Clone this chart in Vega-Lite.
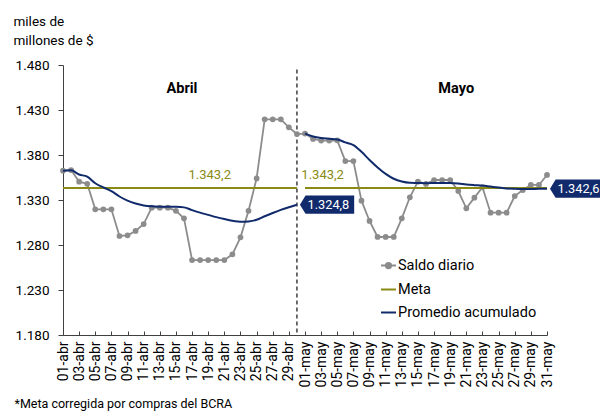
{
  "$schema": "https://vega.github.io/schema/vega-lite/v6.json",
  "width": 484,
  "height": 270,
  "autosize": {"type": "none"},
  "padding": {"left": 63, "top": 65, "right": 53, "bottom": 81},
  "background": "white",
  "config": {"font": "Roboto", "view": {"stroke": null}},
  "datasets": {
    "daily": [
      {"d": "01-abr", "mes": "abr", "Saldo diario": 1362.6, "Meta": 1343.2, "Promedio acumulado": 1362.6},
      {"d": "02-abr", "mes": "abr", "Saldo diario": 1363.3, "Meta": 1343.2, "Promedio acumulado": 1363.0},
      {"d": "03-abr", "mes": "abr", "Saldo diario": 1350.4, "Meta": 1343.2, "Promedio acumulado": 1358.3},
      {"d": "04-abr", "mes": "abr", "Saldo diario": 1348.0, "Meta": 1343.2, "Promedio acumulado": 1356.0},
      {"d": "05-abr", "mes": "abr", "Saldo diario": 1319.6, "Meta": 1343.2, "Promedio acumulado": 1348.6},
      {"d": "06-abr", "mes": "abr", "Saldo diario": 1319.6, "Meta": 1343.2, "Promedio acumulado": 1344.0},
      {"d": "07-abr", "mes": "abr", "Saldo diario": 1319.6, "Meta": 1343.2, "Promedio acumulado": 1339.8},
      {"d": "08-abr", "mes": "abr", "Saldo diario": 1290.0, "Meta": 1343.2, "Promedio acumulado": 1333.9},
      {"d": "09-abr", "mes": "abr", "Saldo diario": 1290.8, "Meta": 1343.2, "Promedio acumulado": 1329.3},
      {"d": "10-abr", "mes": "abr", "Saldo diario": 1295.6, "Meta": 1343.2, "Promedio acumulado": 1326.1},
      {"d": "11-abr", "mes": "abr", "Saldo diario": 1303.3, "Meta": 1343.2, "Promedio acumulado": 1324.0},
      {"d": "12-abr", "mes": "abr", "Saldo diario": 1321.5, "Meta": 1343.2, "Promedio acumulado": 1323.0},
      {"d": "13-abr", "mes": "abr", "Saldo diario": 1321.5, "Meta": 1343.2, "Promedio acumulado": 1322.6},
      {"d": "14-abr", "mes": "abr", "Saldo diario": 1321.5, "Meta": 1343.2, "Promedio acumulado": 1322.5},
      {"d": "15-abr", "mes": "abr", "Saldo diario": 1318.0, "Meta": 1343.2, "Promedio acumulado": 1322.4},
      {"d": "16-abr", "mes": "abr", "Saldo diario": 1309.6, "Meta": 1343.2, "Promedio acumulado": 1321.8},
      {"d": "17-abr", "mes": "abr", "Saldo diario": 1263.3, "Meta": 1343.2, "Promedio acumulado": 1318.8},
      {"d": "18-abr", "mes": "abr", "Saldo diario": 1263.3, "Meta": 1343.2, "Promedio acumulado": 1316.0},
      {"d": "19-abr", "mes": "abr", "Saldo diario": 1263.3, "Meta": 1343.2, "Promedio acumulado": 1313.5},
      {"d": "20-abr", "mes": "abr", "Saldo diario": 1263.3, "Meta": 1343.2, "Promedio acumulado": 1311.0},
      {"d": "21-abr", "mes": "abr", "Saldo diario": 1263.3, "Meta": 1343.2, "Promedio acumulado": 1308.8},
      {"d": "22-abr", "mes": "abr", "Saldo diario": 1269.6, "Meta": 1343.2, "Promedio acumulado": 1306.9},
      {"d": "23-abr", "mes": "abr", "Saldo diario": 1288.5, "Meta": 1343.2, "Promedio acumulado": 1305.8},
      {"d": "24-abr", "mes": "abr", "Saldo diario": 1318.0, "Meta": 1343.2, "Promedio acumulado": 1306.2},
      {"d": "25-abr", "mes": "abr", "Saldo diario": 1354.0, "Meta": 1343.2, "Promedio acumulado": 1308.0},
      {"d": "26-abr", "mes": "abr", "Saldo diario": 1419.6, "Meta": 1343.2, "Promedio acumulado": 1311.9},
      {"d": "27-abr", "mes": "abr", "Saldo diario": 1419.6, "Meta": 1343.2, "Promedio acumulado": 1315.6},
      {"d": "28-abr", "mes": "abr", "Saldo diario": 1419.6, "Meta": 1343.2, "Promedio acumulado": 1319.0},
      {"d": "29-abr", "mes": "abr", "Saldo diario": 1410.7, "Meta": 1343.2, "Promedio acumulado": 1322.0},
      {"d": "30-abr", "mes": "abr", "Saldo diario": 1403.3, "Meta": 1343.2, "Promedio acumulado": 1324.8},
      {"d": "01-may", "mes": "may", "Saldo diario": 1403.8, "Meta": 1343.2, "Promedio acumulado": 1403.8},
      {"d": "02-may", "mes": "may", "Saldo diario": 1397.8, "Meta": 1343.2, "Promedio acumulado": 1400.5},
      {"d": "03-may", "mes": "may", "Saldo diario": 1396.0, "Meta": 1343.2, "Promedio acumulado": 1398.8},
      {"d": "04-may", "mes": "may", "Saldo diario": 1396.0, "Meta": 1343.2, "Promedio acumulado": 1398.0},
      {"d": "05-may", "mes": "may", "Saldo diario": 1396.3, "Meta": 1343.2, "Promedio acumulado": 1397.3},
      {"d": "06-may", "mes": "may", "Saldo diario": 1373.3, "Meta": 1343.2, "Promedio acumulado": 1394.0},
      {"d": "07-may", "mes": "may", "Saldo diario": 1373.3, "Meta": 1343.2, "Promedio acumulado": 1391.0},
      {"d": "08-may", "mes": "may", "Saldo diario": 1329.3, "Meta": 1343.2, "Promedio acumulado": 1383.5},
      {"d": "09-may", "mes": "may", "Saldo diario": 1306.7, "Meta": 1343.2, "Promedio acumulado": 1374.5},
      {"d": "10-may", "mes": "may", "Saldo diario": 1288.9, "Meta": 1343.2, "Promedio acumulado": 1366.2},
      {"d": "11-may", "mes": "may", "Saldo diario": 1288.9, "Meta": 1343.2, "Promedio acumulado": 1359.0},
      {"d": "12-may", "mes": "may", "Saldo diario": 1288.9, "Meta": 1343.2, "Promedio acumulado": 1353.6},
      {"d": "13-may", "mes": "may", "Saldo diario": 1309.6, "Meta": 1343.2, "Promedio acumulado": 1350.5},
      {"d": "14-may", "mes": "may", "Saldo diario": 1333.0, "Meta": 1343.2, "Promedio acumulado": 1349.1},
      {"d": "15-may", "mes": "may", "Saldo diario": 1350.4, "Meta": 1343.2, "Promedio acumulado": 1348.9},
      {"d": "16-may", "mes": "may", "Saldo diario": 1347.8, "Meta": 1343.2, "Promedio acumulado": 1348.7},
      {"d": "17-may", "mes": "may", "Saldo diario": 1352.2, "Meta": 1343.2, "Promedio acumulado": 1348.8},
      {"d": "18-may", "mes": "may", "Saldo diario": 1352.2, "Meta": 1343.2, "Promedio acumulado": 1348.9},
      {"d": "19-may", "mes": "may", "Saldo diario": 1352.2, "Meta": 1343.2, "Promedio acumulado": 1349.0},
      {"d": "20-may", "mes": "may", "Saldo diario": 1340.0, "Meta": 1343.2, "Promedio acumulado": 1348.4},
      {"d": "21-may", "mes": "may", "Saldo diario": 1320.7, "Meta": 1343.2, "Promedio acumulado": 1347.2},
      {"d": "22-may", "mes": "may", "Saldo diario": 1332.6, "Meta": 1343.2, "Promedio acumulado": 1346.5},
      {"d": "23-may", "mes": "may", "Saldo diario": 1344.1, "Meta": 1343.2, "Promedio acumulado": 1346.0},
      {"d": "24-may", "mes": "may", "Saldo diario": 1315.9, "Meta": 1343.2, "Promedio acumulado": 1344.9},
      {"d": "25-may", "mes": "may", "Saldo diario": 1315.9, "Meta": 1343.2, "Promedio acumulado": 1343.8},
      {"d": "26-may", "mes": "may", "Saldo diario": 1315.9, "Meta": 1343.2, "Promedio acumulado": 1342.8},
      {"d": "27-may", "mes": "may", "Saldo diario": 1334.4, "Meta": 1343.2, "Promedio acumulado": 1342.4},
      {"d": "28-may", "mes": "may", "Saldo diario": 1341.1, "Meta": 1343.2, "Promedio acumulado": 1342.2},
      {"d": "29-may", "mes": "may", "Saldo diario": 1346.7, "Meta": 1343.2, "Promedio acumulado": 1342.3},
      {"d": "30-may", "mes": "may", "Saldo diario": 1346.7, "Meta": 1343.2, "Promedio acumulado": 1342.4},
      {"d": "31-may", "mes": "may", "Saldo diario": 1357.8, "Meta": 1343.2, "Promedio acumulado": 1342.6}
    ],
    "divisor": [{"d": "30-abr", "v": 1475, "v2": 1180}],
    "months": [
      {"d": "15-abr", "v": 1453, "t": "Abril"},
      {"d": "19-may", "v": 1453, "t": "Mayo"}
    ],
    "metaLabels": [
      {"d": "19-abr", "v": 1357.8, "t": "1.343,2"},
      {"d": "03-may", "v": 1357.8, "t": "1.343,2"}
    ],
    "callouts": [
      {"d": "30-abr", "v": 1324.8, "t": "1.324,8"},
      {"d": "31-may", "v": 1342.6, "t": "1.342,6"}
    ]
  },
  "encoding": {
    "x": {
      "field": "d",
      "type": "ordinal",
      "scale": {
        "type": "point",
        "padding": 0,
        "domain": ["01-abr","02-abr","03-abr","04-abr","05-abr","06-abr","07-abr","08-abr","09-abr","10-abr","11-abr","12-abr","13-abr","14-abr","15-abr","16-abr","17-abr","18-abr","19-abr","20-abr","21-abr","22-abr","23-abr","24-abr","25-abr","26-abr","27-abr","28-abr","29-abr","30-abr","01-may","02-may","03-may","04-may","05-may","06-may","07-may","08-may","09-may","10-may","11-may","12-may","13-may","14-may","15-may","16-may","17-may","18-may","19-may","20-may","21-may","22-may","23-may","24-may","25-may","26-may","27-may","28-may","29-may","30-may","31-may"]
      },
      "axis": {
        "values": ["01-abr","03-abr","05-abr","07-abr","09-abr","11-abr","13-abr","15-abr","17-abr","19-abr","21-abr","23-abr","25-abr","27-abr","29-abr","01-may","03-may","05-may","07-may","09-may","11-may","13-may","15-may","17-may","19-may","21-may","23-may","25-may","27-may","29-may","31-may"],
        "labelAngle": -90,
        "labelFontSize": 14,
        "labelColor": "#000000",
        "labelPadding": 10,
        "tickSize": -4,
        "tickColor": "#404040",
        "domainColor": "#404040",
        "grid": false,
        "title": "*Meta corregida por compras del BCRA",
        "titleAnchor": "start",
        "titleAlign": "left",
        "titleBaseline": "alphabetic",
        "titleX": -49,
        "titleY": 72,
        "titleFontSize": 12.5,
        "titleFontWeight": "normal",
        "titleColor": "#000000"
      }
    },
    "y": {
      "field": "v",
      "type": "quantitative",
      "scale": {"domain": [1180, 1480], "nice": false, "zero": false},
      "axis": {
        "values": [1180, 1230, 1280, 1330, 1380, 1430, 1480],
        "labelExpr": "replace(format(datum.value, ','), ',', '.')",
        "grid": false,
        "tickSize": 5,
        "tickColor": "#404040",
        "domainColor": "#404040",
        "labelFontSize": 13.5,
        "labelColor": "#000000",
        "labelPadding": 9,
        "title": ["miles de", "millones de $"],
        "titleAngle": 0,
        "titleAlign": "left",
        "titleBaseline": "alphabetic",
        "titleX": -50,
        "titleY": -40,
        "titleFontSize": 13.5,
        "titleFontWeight": "normal",
        "titleColor": "#000000",
        "titleLineHeight": 19
      }
    }
  },
  "layer": [
    {
      "data": {"name": "divisor"},
      "mark": {"type": "rule", "color": "#404040", "strokeWidth": 1.5, "strokeDash": [4, 3]},
      "encoding": {"y2": {"field": "v2"}}
    },
    {
      "data": {"name": "daily"},
      "transform": [
        {"fold": ["Saldo diario", "Meta", "Promedio acumulado"], "as": ["serie", "v"]},
        {"filter": "datum.serie === 'Saldo diario'"}
      ],
      "mark": {"type": "line", "strokeWidth": 1.8},
      "encoding": {
        "color": {
          "field": "serie",
          "type": "nominal",
          "scale": {"domain": ["Saldo diario", "Meta", "Promedio acumulado"], "range": ["#8c8c8c", "#8a8a14", "#102a6b"]},
          "legend": {
            "orient": "none",
            "legendX": 317,
            "legendY": 192,
            "title": null,
            "symbolType": "stroke",
            "symbolSize": 225,
            "symbolStrokeWidth": 2,
            "labelFontSize": 14.5,
            "labelColor": "#000000",
            "rowPadding": 8,
            "labelOffset": 1,
            "padding": 0,
            "encode": {
              "symbols": {
                "update": {
                  "shape": {"signal": "datum.value === 'Saldo diario' ? 'M -1 0 L 1 0 M -0.35 0 A 0.35 0.35 0 1 0 0.35 0 A 0.35 0.35 0 1 0 -0.35 0 Z' : 'stroke'"},
                  "fill": {"signal": "datum.value === 'Saldo diario' ? '#8c8c8c' : 'transparent'"}
                }
              }
            }
          }
        }
      }
    },
    {
      "data": {"name": "daily"},
      "transform": [{"fold": ["Saldo diario"], "as": ["serie", "v"]}],
      "mark": {"type": "point", "filled": true, "color": "#8c8c8c", "size": 33, "opacity": 1}
    },
    {
      "data": {"name": "daily"},
      "transform": [
        {"fold": ["Saldo diario", "Meta", "Promedio acumulado"], "as": ["serie", "v"]},
        {"filter": "datum.serie === 'Meta'"}
      ],
      "mark": {"type": "line", "strokeWidth": 2},
      "encoding": {
        "detail": {"field": "mes"},
        "color": {
          "field": "serie",
          "type": "nominal",
          "scale": {"domain": ["Saldo diario", "Meta", "Promedio acumulado"], "range": ["#8c8c8c", "#8a8a14", "#102a6b"]}
        }
      }
    },
    {
      "data": {"name": "daily"},
      "transform": [
        {"fold": ["Saldo diario", "Meta", "Promedio acumulado"], "as": ["serie", "v"]},
        {"filter": "datum.serie === 'Promedio acumulado'"}
      ],
      "mark": {"type": "line", "strokeWidth": 2, "interpolate": "monotone"},
      "encoding": {
        "detail": {"field": "mes"},
        "color": {
          "field": "serie",
          "type": "nominal",
          "scale": {"domain": ["Saldo diario", "Meta", "Promedio acumulado"], "range": ["#8c8c8c", "#8a8a14", "#102a6b"]}
        }
      }
    },
    {
      "data": {"name": "months"},
      "mark": {"type": "text", "fontWeight": "bold", "fontSize": 14.5, "color": "#000000", "dx": 6, "baseline": "middle", "align": "center"},
      "encoding": {"text": {"field": "t"}}
    },
    {
      "data": {"name": "metaLabels"},
      "mark": {"type": "text", "fontSize": 13, "color": "#8a8a14", "dx": 1.5, "baseline": "middle", "align": "center"},
      "encoding": {"text": {"field": "t"}}
    },
    {
      "data": {"name": "callouts"},
      "mark": {"type": "point", "filled": true, "color": "#102a6b", "opacity": 1, "size": 2916, "shape": "M 0.11 0 L 0.32 -0.34 L 2.12 -0.34 L 2.12 0.34 L 0.32 0.34 Z"}
    },
    {
      "data": {"name": "callouts"},
      "mark": {"type": "text", "fontSize": 12.8, "color": "#ffffff", "dx": 10.5, "baseline": "middle", "align": "left"},
      "encoding": {"text": {"field": "t"}}
    }
  ]
}
